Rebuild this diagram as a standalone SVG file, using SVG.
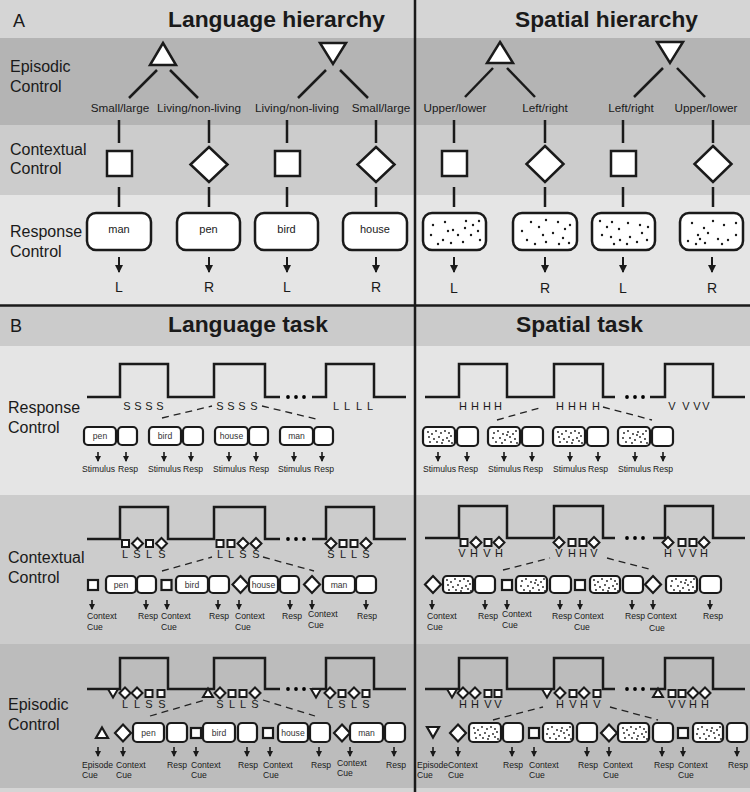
<svg xmlns="http://www.w3.org/2000/svg" xmlns:xlink="http://www.w3.org/1999/xlink" width="750" height="792" viewBox="0 0 750 792">
<style>
text{font-family:"Liberation Sans",Arial,sans-serif;fill:#1a1a1a}
.t16{font-size:16px}
.title{font-size:22px;font-weight:bold}
.pl{font-size:18px}
.lab{font-size:11.7px;text-anchor:middle}
.lr{font-size:14px;text-anchor:middle}
.wd{font-size:11px;text-anchor:middle}
.bw{font-size:8.6px;text-anchor:middle;fill:#333}
.s9{font-size:8.6px}
.lt{font-size:11px;text-anchor:middle}
.shape{fill:#fff;stroke:#1a1a1a;stroke-width:2.5}
.bx{fill:#fff;stroke:#1a1a1a;stroke-width:2.2}
.ln{stroke:#1a1a1a;stroke-width:2.5;fill:none}
.pulse{stroke:#1a1a1a;stroke-width:2.5;fill:none}
.dash{stroke:#222;stroke-width:1.3;stroke-dasharray:7 5;fill:none}
.arr{stroke:#1a1a1a;stroke-width:2;marker-end:url(#ahB)}
.arrS{stroke:#1a1a1a;stroke-width:1.6;marker-end:url(#ahS)}
</style>
<defs>
<marker id="ahB" viewBox="0 0 8 8" refX="7" refY="4" markerWidth="8" markerHeight="8" markerUnits="userSpaceOnUse" orient="auto"><path d="M0,0 L8,4 L0,8 Z" fill="#1a1a1a"/></marker>
<marker id="ahS" viewBox="0 0 6 6" refX="5" refY="3" markerWidth="6" markerHeight="6" markerUnits="userSpaceOnUse" orient="auto"><path d="M0,0 L6,3 L0,6 Z" fill="#1a1a1a"/></marker>
<rect id="sqS" x="-3.5" y="-3.5" width="7" height="7" fill="#fff" stroke="#1a1a1a" stroke-width="2"/>
<path id="dmS" d="M0,-5.5 L5.5,0 L0,5.5 L-5.5,0 Z" fill="#fff" stroke="#1a1a1a" stroke-width="2"/>
<path id="tdS" d="M-5,-4 L5,-4 L0,4.5 Z" fill="#fff" stroke="#1a1a1a" stroke-width="2"/>
<path id="tuS" d="M0,-4.5 L5,4 L-5,4 Z" fill="#fff" stroke="#1a1a1a" stroke-width="2"/>
<rect id="sqM" x="-5" y="-5" width="10" height="10" fill="#fff" stroke="#1a1a1a" stroke-width="2.2"/>
<path id="dmM" d="M0,-8.5 L8,0 L0,8.5 L-8,0 Z" fill="#fff" stroke="#1a1a1a" stroke-width="2.2"/>
<path id="tuM" d="M0,-5.5 L6,5 L-6,5 Z" fill="#fff" stroke="#1a1a1a" stroke-width="2.2"/>
<path id="tdM" d="M-6,-5 L6,-5 L0,5.5 Z" fill="#fff" stroke="#1a1a1a" stroke-width="2.2"/>
<g id="dS1" fill="#1a1a1a"><circle cx="4" cy="4" r="0.9"/><circle cx="8" cy="6" r="0.9"/><circle cx="12" cy="3" r="0.9"/><circle cx="17" cy="5" r="0.9"/><circle cx="21" cy="3" r="0.9"/><circle cx="25" cy="5" r="0.9"/><circle cx="27" cy="8" r="0.9"/><circle cx="5" cy="9" r="0.9"/><circle cx="10" cy="11" r="0.9"/><circle cx="15" cy="9" r="0.9"/><circle cx="19" cy="12" r="0.9"/><circle cx="23" cy="10" r="0.9"/><circle cx="6" cy="14" r="0.9"/><circle cx="13" cy="14" r="0.9"/><circle cx="18" cy="15" r="0.9"/><circle cx="25" cy="13" r="0.9"/><circle cx="28" cy="15" r="0.9"/></g>
<g id="dS2" fill="#1a1a1a"><circle cx="5" cy="5" r="0.9"/><circle cx="9" cy="3" r="0.9"/><circle cx="14" cy="6" r="0.9"/><circle cx="19" cy="4" r="0.9"/><circle cx="24" cy="6" r="0.9"/><circle cx="27" cy="3" r="0.9"/><circle cx="4" cy="10" r="0.9"/><circle cx="11" cy="10" r="0.9"/><circle cx="16" cy="12" r="0.9"/><circle cx="21" cy="9" r="0.9"/><circle cx="26" cy="11" r="0.9"/><circle cx="7" cy="14" r="0.9"/><circle cx="13" cy="15" r="0.9"/><circle cx="22" cy="14" r="0.9"/><circle cx="28" cy="15" r="0.9"/><circle cx="18" cy="7" r="0.9"/></g>
</defs>

<g id="backgrounds">
<rect x="0" y="0" width="750" height="38" fill="#d5d5d5"/>
<rect x="0" y="38" width="750" height="87" fill="#b4b4b4"/>
<rect x="0" y="125" width="750" height="70" fill="#cccccc"/>
<rect x="0" y="195" width="750" height="111" fill="#e5e5e5"/>
<rect x="0" y="306" width="750" height="40" fill="#cbcbcb"/>
<rect x="0" y="346" width="750" height="149" fill="#e5e5e5"/>
<rect x="0" y="495" width="750" height="149" fill="#cccccc"/>
<rect x="0" y="644" width="750" height="144" fill="#bcbcbc"/>
<rect x="0" y="788" width="750" height="4" fill="#d5d5d5"/>
<line x1="0" y1="305.5" x2="750" y2="305.5" stroke="#1a1a1a" stroke-width="2.5"/>
<line x1="415" y1="0" x2="415" y2="792" stroke="#1a1a1a" stroke-width="2.5"/>
</g>

<g id="labels">
<text class="pl" x="13" y="27">A</text>
<text class="title" x="168" y="27" textLength="217" lengthAdjust="spacingAndGlyphs">Language hierarchy</text>
<text class="title" x="515" y="27" textLength="183" lengthAdjust="spacingAndGlyphs">Spatial hierarchy</text>
<text class="t16" x="10" y="72">Episodic</text>
<text class="t16" x="10" y="92">Control</text>
<text class="t16" x="10" y="155">Contextual</text>
<text class="t16" x="10" y="174">Control</text>
<text class="t16" x="10" y="237">Response</text>
<text class="t16" x="10" y="257">Control</text>
<text class="pl" x="10" y="332">B</text>
<text class="title" x="168" y="332" textLength="160" lengthAdjust="spacingAndGlyphs">Language task</text>
<text class="title" x="516" y="332" textLength="127" lengthAdjust="spacingAndGlyphs">Spatial task</text>
<text class="t16" x="8" y="413">Response</text>
<text class="t16" x="8" y="433">Control</text>
<text class="t16" x="8" y="563">Contextual</text>
<text class="t16" x="8" y="583">Control</text>
<text class="t16" x="8" y="710">Episodic</text>
<text class="t16" x="8" y="730">Control</text>
</g>

<g id="connectors">
<line class="ln" x1="157" y1="70" x2="129" y2="98"/>
<line class="ln" x1="170" y1="70" x2="198" y2="98"/>
<line class="ln" x1="326" y1="70" x2="298" y2="98"/>
<line class="ln" x1="340" y1="70" x2="368" y2="98"/>
<line class="ln" x1="493" y1="68" x2="465" y2="97"/>
<line class="ln" x1="507" y1="68" x2="535" y2="97"/>
<line class="ln" x1="663" y1="68" x2="634" y2="97"/>
<line class="ln" x1="677" y1="68" x2="705" y2="97"/>
<g class="ln">
<line x1="119" y1="120" x2="119" y2="143"/><line x1="209" y1="120" x2="209" y2="143"/><line x1="287" y1="120" x2="287" y2="143"/><line x1="376" y1="120" x2="376" y2="143"/>
<line x1="454" y1="120" x2="454" y2="143"/><line x1="545" y1="120" x2="545" y2="143"/><line x1="623" y1="120" x2="623" y2="143"/><line x1="713" y1="120" x2="713" y2="143"/>
<line x1="119" y1="187" x2="119" y2="207"/><line x1="209" y1="187" x2="209" y2="207"/><line x1="287" y1="187" x2="287" y2="207"/><line x1="376" y1="187" x2="376" y2="207"/>
<line x1="454" y1="187" x2="454" y2="207"/><line x1="545" y1="187" x2="545" y2="207"/><line x1="623" y1="187" x2="623" y2="207"/><line x1="713" y1="187" x2="713" y2="207"/>
</g>
<g>
<line class="arr" x1="119" y1="257" x2="119" y2="272"/><line class="arr" x1="209" y1="257" x2="209" y2="272"/><line class="arr" x1="287" y1="257" x2="287" y2="272"/><line class="arr" x1="376" y1="257" x2="376" y2="272"/>
<line class="arr" x1="454" y1="257" x2="454" y2="272"/><line class="arr" x1="545" y1="257" x2="545" y2="272"/><line class="arr" x1="623" y1="257" x2="623" y2="272"/><line class="arr" x1="712" y1="257" x2="712" y2="272"/>
</g>
<line class="dash" x1="162" y1="418" x2="212" y2="406"/><line class="dash" x1="262" y1="406" x2="316" y2="419"/>
<line class="dash" x1="497" y1="420" x2="543" y2="407"/><line class="dash" x1="603" y1="407" x2="652" y2="420"/>
<line class="dash" x1="162" y1="571" x2="212" y2="557"/><line class="dash" x1="263" y1="557" x2="314" y2="571"/>
<line class="dash" x1="503" y1="570" x2="550" y2="558"/><line class="dash" x1="607" y1="558" x2="653" y2="570"/>
<line class="dash" x1="150" y1="716" x2="205" y2="700"/><line class="dash" x1="263" y1="700" x2="315" y2="716"/>
<line class="dash" x1="493" y1="720" x2="543" y2="707"/><line class="dash" x1="610" y1="707" x2="658" y2="720"/>
<g>
<line class="arrS" x1="98" y1="452" x2="98" y2="461"/><line class="arrS" x1="126" y1="452" x2="126" y2="461"/><line class="arrS" x1="164" y1="452" x2="164" y2="461"/><line class="arrS" x1="191" y1="452" x2="191" y2="461"/><line class="arrS" x1="229" y1="452" x2="229" y2="461"/><line class="arrS" x1="256" y1="452" x2="256" y2="461"/><line class="arrS" x1="294" y1="452" x2="294" y2="461"/><line class="arrS" x1="322" y1="452" x2="322" y2="461"/>
<line class="arrS" x1="438" y1="452" x2="438" y2="461"/><line class="arrS" x1="467" y1="452" x2="467" y2="461"/><line class="arrS" x1="504" y1="452" x2="504" y2="461"/><line class="arrS" x1="532" y1="452" x2="532" y2="461"/><line class="arrS" x1="570" y1="452" x2="570" y2="461"/><line class="arrS" x1="598" y1="452" x2="598" y2="461"/><line class="arrS" x1="635" y1="452" x2="635" y2="461"/><line class="arrS" x1="663" y1="452" x2="663" y2="461"/>
<line class="arrS" x1="92" y1="600" x2="92" y2="609"/><line class="arrS" x1="146" y1="600" x2="146" y2="609"/><line class="arrS" x1="167" y1="600" x2="167" y2="609"/><line class="arrS" x1="218" y1="600" x2="218" y2="609"/><line class="arrS" x1="239" y1="600" x2="239" y2="609"/><line class="arrS" x1="290" y1="600" x2="290" y2="609"/><line class="arrS" x1="312" y1="600" x2="312" y2="609"/><line class="arrS" x1="366" y1="600" x2="366" y2="609"/>
<line class="arrS" x1="432" y1="600" x2="432" y2="609"/><line class="arrS" x1="485" y1="600" x2="485" y2="609"/><line class="arrS" x1="507" y1="600" x2="507" y2="609"/><line class="arrS" x1="560" y1="600" x2="560" y2="609"/><line class="arrS" x1="580" y1="600" x2="580" y2="609"/><line class="arrS" x1="632" y1="600" x2="632" y2="609"/><line class="arrS" x1="653" y1="600" x2="653" y2="609"/><line class="arrS" x1="710" y1="600" x2="710" y2="609"/>
<line class="arrS" x1="98" y1="747" x2="98" y2="756"/><line class="arrS" x1="123" y1="747" x2="123" y2="756"/><line class="arrS" x1="174" y1="747" x2="174" y2="756"/><line class="arrS" x1="196" y1="747" x2="196" y2="756"/><line class="arrS" x1="247" y1="747" x2="247" y2="756"/><line class="arrS" x1="270" y1="747" x2="270" y2="756"/><line class="arrS" x1="319" y1="747" x2="319" y2="756"/><line class="arrS" x1="350" y1="747" x2="350" y2="756"/><line class="arrS" x1="394" y1="747" x2="394" y2="756"/>
<line class="arrS" x1="433" y1="747" x2="433" y2="756"/><line class="arrS" x1="458" y1="747" x2="458" y2="756"/><line class="arrS" x1="512" y1="747" x2="512" y2="756"/><line class="arrS" x1="534" y1="747" x2="534" y2="756"/><line class="arrS" x1="587" y1="747" x2="587" y2="756"/><line class="arrS" x1="609" y1="747" x2="609" y2="756"/><line class="arrS" x1="662" y1="747" x2="662" y2="756"/><line class="arrS" x1="683" y1="747" x2="683" y2="756"/><line class="arrS" x1="737" y1="747" x2="737" y2="756"/>
</g>
</g>

<g id="lang-episode-up"><path class="shape" d="M163,43 L176,65 L150,65 Z"/></g>
<g id="lang-episode-down"><path class="shape" d="M320,43 L346,43 L333,64 Z"/></g>
<g id="lang-rules">
<text class="lab" x="120" y="112">Small/large</text>
<text class="lab" x="199" y="112">Living/non-living</text>
<text class="lab" x="297" y="112">Living/non-living</text>
<text class="lab" x="381" y="112">Small/large</text>
</g>
<g id="lang-ctx-1"><rect class="shape" x="107" y="151" width="25" height="25"/></g>
<g id="lang-ctx-2"><path class="shape" d="M209,147 L227.5,164.5 L209,182 L190.5,164.5 Z"/></g>
<g id="lang-ctx-3"><rect class="shape" x="275" y="151" width="25" height="25"/></g>
<g id="lang-ctx-4"><path class="shape" d="M376,147 L394.5,164.5 L376,182 L357.5,164.5 Z"/></g>
<g id="lang-resp-man"><rect class="shape" x="87" y="213" width="64" height="37" rx="9"/><text class="wd" x="119" y="233">man</text></g>
<g id="lang-resp-pen"><rect class="shape" x="177" y="213" width="63" height="37" rx="9"/><text class="wd" x="208.5" y="233">pen</text></g>
<g id="lang-resp-bird"><rect class="shape" x="255" y="213" width="63" height="37" rx="9"/><text class="wd" x="286.5" y="233">bird</text></g>
<g id="lang-resp-house"><rect class="shape" x="343" y="213" width="64" height="37" rx="9"/><text class="wd" x="375" y="233">house</text></g>
<g id="lang-outputs">
<text class="lr" x="119" y="292">L</text><text class="lr" x="209" y="292">R</text><text class="lr" x="287" y="292">L</text><text class="lr" x="376" y="292">R</text>
</g>

<g id="spat-episode-up"><path class="shape" d="M500,42 L513,63 L487,63 Z"/></g>
<g id="spat-episode-down"><path class="shape" d="M657,42 L683,42 L670,63 Z"/></g>
<g id="spat-rules">
<text class="lab" x="455" y="112">Upper/lower</text>
<text class="lab" x="545" y="112">Left/right</text>
<text class="lab" x="631" y="112">Left/right</text>
<text class="lab" x="706" y="112">Upper/lower</text>
</g>
<g id="spat-ctx-1"><rect class="shape" x="442" y="151" width="25" height="25"/></g>
<g id="spat-ctx-2"><path class="shape" d="M545,146 L563.5,164 L545,182 L526.5,164 Z"/></g>
<g id="spat-ctx-3"><rect class="shape" x="611" y="151" width="25" height="25"/></g>
<g id="spat-ctx-4"><path class="shape" d="M713,146 L731.5,164 L713,182 L694.5,164 Z"/></g>
<g id="spat-resp-1"><rect class="shape" x="423" y="213" width="63" height="37" rx="9"/>
<g fill="#1a1a1a" transform="translate(423,213)"><circle cx="10" cy="12" r="1.2"/><circle cx="22" cy="9" r="1.2"/><circle cx="30" cy="17" r="1.2"/><circle cx="43" cy="8" r="1.2"/><circle cx="50" cy="12" r="1.2"/><circle cx="56" cy="8" r="1.2"/><circle cx="8" cy="22" r="1.2"/><circle cx="20" cy="27" r="1.2"/><circle cx="35" cy="22" r="1.2"/><circle cx="42" cy="15" r="1.2"/><circle cx="48" cy="22" r="1.2"/><circle cx="55" cy="18" r="1.2"/><circle cx="15" cy="31" r="1.2"/><circle cx="28" cy="30" r="1.2"/><circle cx="40" cy="29" r="1.2"/><circle cx="57" cy="27" r="1.2"/><circle cx="25" cy="18" r="1.2"/></g></g>
<g id="spat-resp-2"><rect class="shape" x="513" y="213" width="64" height="37" rx="9"/>
<g fill="#1a1a1a" transform="translate(513,213)"><circle cx="9" cy="18" r="1.2"/><circle cx="18" cy="9" r="1.2"/><circle cx="26" cy="14" r="1.2"/><circle cx="33" cy="7" r="1.2"/><circle cx="45" cy="9" r="1.2"/><circle cx="52" cy="16" r="1.2"/><circle cx="14" cy="27" r="1.2"/><circle cx="22" cy="31" r="1.2"/><circle cx="33" cy="29" r="1.2"/><circle cx="40" cy="20" r="1.2"/><circle cx="50" cy="25" r="1.2"/><circle cx="56" cy="30" r="1.2"/><circle cx="46" cy="31" r="1.2"/><circle cx="30" cy="22" r="1.2"/><circle cx="57" cy="12" r="1.2"/></g></g>
<g id="spat-resp-3"><rect class="shape" x="592" y="213" width="63" height="37" rx="9"/>
<g fill="#1a1a1a" transform="translate(592,213)"><circle cx="8" cy="8" r="1.2"/><circle cx="15" cy="14" r="1.2"/><circle cx="20" cy="9" r="1.2"/><circle cx="27" cy="16" r="1.2"/><circle cx="36" cy="10" r="1.2"/><circle cx="48" cy="12" r="1.2"/><circle cx="56" cy="14" r="1.2"/><circle cx="10" cy="22" r="1.2"/><circle cx="19" cy="24" r="1.2"/><circle cx="28" cy="27" r="1.2"/><circle cx="38" cy="24" r="1.2"/><circle cx="45" cy="29" r="1.2"/><circle cx="55" cy="27" r="1.2"/><circle cx="35" cy="31" r="1.2"/><circle cx="22" cy="31" r="1.2"/><circle cx="50" cy="20" r="1.2"/></g></g>
<g id="spat-resp-4"><rect class="shape" x="680" y="213" width="63" height="37" rx="9"/>
<g fill="#1a1a1a" transform="translate(680,213)"><circle cx="12" cy="10" r="1.2"/><circle cx="24" cy="15" r="1.2"/><circle cx="33" cy="8" r="1.2"/><circle cx="44" cy="12" r="1.2"/><circle cx="56" cy="10" r="1.2"/><circle cx="18" cy="22" r="1.2"/><circle cx="28" cy="20" r="1.2"/><circle cx="8" cy="28" r="1.2"/><circle cx="16" cy="31" r="1.2"/><circle cx="25" cy="30" r="1.2"/><circle cx="38" cy="26" r="1.2"/><circle cx="48" cy="27" r="1.2"/><circle cx="56" cy="22" r="1.2"/><circle cx="42" cy="31" r="1.2"/><circle cx="20" cy="26" r="1.2"/></g></g>
<g id="spat-outputs">
<text class="lr" x="454" y="293">L</text><text class="lr" x="545" y="293">R</text><text class="lr" x="623" y="293">L</text><text class="lr" x="712" y="293">R</text>
</g>

<g id="resp-lang-pulse">
<path class="pulse" d="M87,397 H120 V364 H168 V397 H214 V364 H265 V397 H280 M312,397 H326 V364 H374 V397 H406"/>
<circle cx="288" cy="397" r="1.9"/><circle cx="296" cy="397" r="1.9"/><circle cx="304" cy="397" r="1.9"/>
<text class="lt" x="127" y="410">S</text><text class="lt" x="138" y="410">S</text><text class="lt" x="149" y="410">S</text><text class="lt" x="160" y="410">S</text>
<text class="lt" x="220" y="410">S</text><text class="lt" x="231" y="410">S</text><text class="lt" x="242" y="410">S</text><text class="lt" x="254" y="410">S</text>
<text class="lt" x="336" y="410">L</text><text class="lt" x="347" y="410">L</text><text class="lt" x="359" y="410">L</text><text class="lt" x="370" y="410">L</text>
</g>
<g id="resp-lang-trials">
<rect class="bx" x="84" y="427" width="32" height="18" rx="4"/><text class="bw" x="100" y="439">pen</text><rect class="bx" x="118" y="427" width="19" height="18" rx="4"/>
<rect class="bx" x="149" y="427" width="32" height="18" rx="4"/><text class="bw" x="165" y="439">bird</text><rect class="bx" x="183" y="427" width="20" height="18" rx="4"/>
<rect class="bx" x="215" y="427" width="33" height="18" rx="4"/><text class="bw" x="231.5" y="439">house</text><rect class="bx" x="249" y="427" width="19" height="18" rx="4"/>
<rect class="bx" x="280" y="427" width="33" height="18" rx="4"/><text class="bw" x="296.5" y="439">man</text><rect class="bx" x="314" y="427" width="19" height="18" rx="4"/>
<g class="s9"><text x="82" y="472">Stimulus</text><text x="118" y="472">Resp</text><text x="148" y="472">Stimulus</text><text x="183" y="472">Resp</text><text x="213" y="472">Stimulus</text><text x="249" y="472">Resp</text><text x="278" y="472">Stimulus</text><text x="314" y="472">Resp</text></g>
</g>
<g id="resp-spat-pulse">
<path class="pulse" d="M425,397 H459 V364 H507 V397 H554 V364 H603 V397 H615 M650,397 H665 V364 H713 V397 H745"/>
<circle cx="627" cy="397" r="1.9"/><circle cx="635" cy="397" r="1.9"/><circle cx="643" cy="397" r="1.9"/>
<text class="lt" x="463" y="410">H</text><text class="lt" x="475" y="410">H</text><text class="lt" x="487" y="410">H</text><text class="lt" x="498" y="410">H</text>
<text class="lt" x="560" y="410">H</text><text class="lt" x="572" y="410">H</text><text class="lt" x="583" y="410">H</text><text class="lt" x="596" y="410">H</text>
<text class="lt" x="672" y="410">V</text><text class="lt" x="686" y="410">V</text><text class="lt" x="697" y="410">V</text><text class="lt" x="706" y="410">V</text>
</g>
<g id="resp-spat-trials">
<rect class="bx" x="423" y="427" width="32" height="19" rx="4"/><use href="#dS1" x="424" y="428"/><rect class="bx" x="457" y="427" width="21" height="19" rx="4"/>
<rect class="bx" x="488" y="427" width="32" height="19" rx="4"/><use href="#dS2" x="489" y="428"/><rect class="bx" x="522" y="427" width="21" height="19" rx="4"/>
<rect class="bx" x="553" y="427" width="32" height="19" rx="4"/><use href="#dS1" x="554" y="428"/><rect class="bx" x="587" y="427" width="21" height="19" rx="4"/>
<rect class="bx" x="618" y="427" width="32" height="19" rx="4"/><use href="#dS2" x="619" y="428"/><rect class="bx" x="652" y="427" width="21" height="19" rx="4"/>
<g class="s9"><text x="423" y="472">Stimulus</text><text x="458" y="472">Resp</text><text x="488" y="472">Stimulus</text><text x="523" y="472">Resp</text><text x="553" y="472">Stimulus</text><text x="588" y="472">Resp</text><text x="618" y="472">Stimulus</text><text x="653" y="472">Resp</text></g>
</g>

<g id="ctx-lang-pulse">
<path class="pulse" d="M87,539 H120 V507 H168 V539 H214 V507 H265 V539 H280 M312,539 H326 V507 H374 V539 H406"/>
<circle cx="288" cy="539" r="1.9"/><circle cx="296" cy="539" r="1.9"/><circle cx="304" cy="539" r="1.9"/>
<use href="#sqS" x="125.5" y="543.5"/><use href="#dmS" x="137.5" y="543.5"/><use href="#sqS" x="149.5" y="543.5"/><use href="#dmS" x="161.5" y="543.5"/>
<use href="#sqS" x="220" y="543.5"/><use href="#sqS" x="231" y="543.5"/><use href="#dmS" x="243" y="543.5"/><use href="#dmS" x="256" y="543.5"/>
<use href="#dmS" x="331" y="543.5"/><use href="#sqS" x="343" y="543.5"/><use href="#sqS" x="354" y="543.5"/><use href="#dmS" x="366" y="543.5"/>
<text class="lt" x="125" y="558">L</text><text class="lt" x="137" y="558">S</text><text class="lt" x="149" y="558">L</text><text class="lt" x="162" y="558">S</text>
<text class="lt" x="220" y="558">L</text><text class="lt" x="231" y="558">L</text><text class="lt" x="243" y="558">S</text><text class="lt" x="256" y="558">S</text>
<text class="lt" x="331" y="558">S</text><text class="lt" x="343" y="558">L</text><text class="lt" x="354" y="558">L</text><text class="lt" x="366" y="558">S</text>
</g>
<g id="ctx-lang-trials">
<use href="#sqM" x="93" y="585"/>
<rect class="bx" x="106" y="576" width="30" height="17" rx="4"/><text class="bw" x="121" y="588">pen</text><rect class="bx" x="137" y="576" width="19" height="17" rx="4"/>
<use href="#sqM" x="166.5" y="585"/>
<rect class="bx" x="176" y="576" width="32" height="17" rx="4"/><text class="bw" x="192" y="588">bird</text><rect class="bx" x="209" y="576" width="20" height="17" rx="4"/>
<use href="#dmM" x="240.5" y="584.5"/>
<rect class="bx" x="249" y="576" width="29" height="17" rx="4"/><text class="bw" x="263.5" y="588">house</text><rect class="bx" x="280" y="576" width="19" height="17" rx="4"/>
<use href="#dmM" x="312" y="584.5"/>
<rect class="bx" x="323" y="576" width="32" height="17" rx="4"/><text class="bw" x="339" y="588">man</text><rect class="bx" x="356" y="576" width="20" height="17" rx="4"/>
<g class="s9"><text x="87" y="619">Context</text><text x="87" y="630">Cue</text><text x="138" y="619">Resp</text><text x="161" y="619">Context</text><text x="161" y="630">Cue</text><text x="209" y="619">Resp</text><text x="235" y="619">Context</text><text x="235" y="630">Cue</text><text x="282" y="619">Resp</text><text x="308" y="617">Context</text><text x="308" y="628">Cue</text><text x="357" y="619">Resp</text></g>
</g>
<g id="ctx-spat-pulse">
<path class="pulse" d="M425,538 H459 V506 H507 V538 H554 V506 H603 V538 H615 M653,538 H665 V506 H713 V538 H745"/>
<circle cx="627" cy="538" r="1.9"/><circle cx="635" cy="538" r="1.9"/><circle cx="643" cy="538" r="1.9"/>
<use href="#sqS" x="464" y="542.5"/><use href="#dmS" x="476" y="542.5"/><use href="#sqS" x="488" y="542.5"/><use href="#dmS" x="499" y="542.5"/>
<use href="#dmS" x="559" y="542.5"/><use href="#sqS" x="572" y="542.5"/><use href="#sqS" x="583" y="542.5"/><use href="#dmS" x="594" y="542.5"/>
<use href="#dmS" x="668" y="542.5"/><use href="#sqS" x="682" y="542.5"/><use href="#sqS" x="693" y="542.5"/><use href="#dmS" x="704" y="542.5"/>
<text class="lt" x="462" y="557">V</text><text class="lt" x="474" y="557">H</text><text class="lt" x="487" y="557">V</text><text class="lt" x="499" y="557">H</text>
<text class="lt" x="559" y="557">V</text><text class="lt" x="572" y="557">H</text><text class="lt" x="583" y="557">H</text><text class="lt" x="594" y="557">V</text>
<text class="lt" x="668" y="557">H</text><text class="lt" x="682" y="557">V</text><text class="lt" x="693" y="557">V</text><text class="lt" x="704" y="557">H</text>
</g>
<g id="ctx-spat-trials">
<use href="#dmM" x="433" y="584.5"/>
<rect class="bx" x="443" y="576" width="30" height="17" rx="4"/><use href="#dS1" x="443" y="576"/><rect class="bx" x="475" y="576" width="20" height="17" rx="4"/>
<use href="#sqM" x="507" y="585"/>
<rect class="bx" x="516" y="576" width="31" height="17" rx="4"/><use href="#dS2" x="517" y="576"/><rect class="bx" x="550" y="576" width="21" height="17" rx="4"/>
<use href="#sqM" x="580" y="585"/>
<rect class="bx" x="590" y="576" width="30" height="17" rx="4"/><use href="#dS1" x="590" y="576"/><rect class="bx" x="623" y="576" width="20" height="17" rx="4"/>
<use href="#dmM" x="653" y="584.5"/>
<rect class="bx" x="666" y="576" width="31" height="17" rx="4"/><use href="#dS2" x="667" y="576"/><rect class="bx" x="700" y="576" width="21" height="17" rx="4"/>
<g class="s9"><text x="427" y="619">Context</text><text x="427" y="630">Cue</text><text x="478" y="619">Resp</text><text x="502" y="617">Context</text><text x="502" y="628">Cue</text><text x="552" y="619">Resp</text><text x="574" y="619">Context</text><text x="574" y="630">Cue</text><text x="625" y="619">Resp</text><text x="647" y="619">Context</text><text x="649" y="631">Cue</text><text x="703" y="619">Resp</text></g>
</g>

<g id="epi-lang-pulse">
<path class="pulse" d="M87,689 H120 V658 H168 V689 H214 V658 H265 V689 H280 M312,689 H326 V658 H374 V689 H406"/>
<circle cx="288" cy="689" r="1.9"/><circle cx="296" cy="689" r="1.9"/><circle cx="304" cy="689" r="1.9"/>
<use href="#tdS" x="113" y="693"/><use href="#dmS" x="125" y="693"/><use href="#dmS" x="137" y="693"/><use href="#sqS" x="149" y="693.5"/><use href="#sqS" x="161" y="693.5"/>
<use href="#tuS" x="208" y="693"/><use href="#dmS" x="220" y="693"/><use href="#sqS" x="232" y="693.5"/><use href="#sqS" x="243" y="693.5"/><use href="#dmS" x="255" y="693"/>
<use href="#tdS" x="316" y="693"/><use href="#dmS" x="330" y="693"/><use href="#sqS" x="342" y="693.5"/><use href="#dmS" x="354" y="693"/><use href="#sqS" x="366" y="693.5"/>
<text class="lt" x="125" y="708">L</text><text class="lt" x="137" y="708">L</text><text class="lt" x="149" y="708">S</text><text class="lt" x="162" y="708">S</text>
<text class="lt" x="220" y="708">S</text><text class="lt" x="232" y="708">L</text><text class="lt" x="243" y="708">L</text><text class="lt" x="255" y="708">S</text>
<text class="lt" x="330" y="708">L</text><text class="lt" x="342" y="708">S</text><text class="lt" x="354" y="708">L</text><text class="lt" x="366" y="708">S</text>
</g>
<g id="epi-lang-trials">
<use href="#tuM" x="102" y="733"/>
<use href="#dmM" x="123" y="733"/>
<rect class="bx" x="133" y="723" width="31" height="19" rx="4"/><text class="bw" x="148.5" y="736">pen</text><rect class="bx" x="167" y="723" width="20" height="19" rx="4"/>
<use href="#sqM" x="196" y="733"/>
<rect class="bx" x="203" y="723" width="32" height="19" rx="4"/><text class="bw" x="219" y="736">bird</text><rect class="bx" x="238" y="723" width="19" height="19" rx="4"/>
<use href="#sqM" x="268" y="733"/>
<rect class="bx" x="278" y="723" width="30" height="19" rx="4"/><text class="bw" x="293" y="736">house</text><rect class="bx" x="310" y="723" width="20" height="19" rx="4"/>
<use href="#dmM" x="342" y="733"/>
<rect class="bx" x="350" y="723" width="33" height="19" rx="4"/><text class="bw" x="366.5" y="736">man</text><rect class="bx" x="385" y="723" width="20" height="19" rx="4"/>
<g class="s9"><text x="82" y="768">Episode</text><text x="82" y="778">Cue</text><text x="116" y="768">Context</text><text x="116" y="778">Cue</text><text x="167" y="768">Resp</text><text x="191" y="768">Context</text><text x="191" y="778">Cue</text><text x="238" y="768">Resp</text><text x="263" y="768">Context</text><text x="263" y="778">Cue</text><text x="311" y="768">Resp</text><text x="337" y="766">Context</text><text x="337" y="776">Cue</text><text x="386" y="768">Resp</text></g>
</g>
<g id="epi-spat-pulse">
<path class="pulse" d="M425,689 H459 V658 H507 V689 H554 V658 H603 V689 H615 M650,689 H665 V658 H713 V689 H745"/>
<circle cx="627" cy="689" r="1.9"/><circle cx="635" cy="689" r="1.9"/><circle cx="643" cy="689" r="1.9"/>
<use href="#tdS" x="452" y="693"/><use href="#dmS" x="463" y="693"/><use href="#dmS" x="475" y="693"/><use href="#sqS" x="488" y="693.5"/><use href="#sqS" x="498" y="693.5"/>
<use href="#tdS" x="547" y="693"/><use href="#dmS" x="560" y="693"/><use href="#sqS" x="573" y="693.5"/><use href="#dmS" x="584" y="693"/><use href="#sqS" x="597" y="693.5"/>
<use href="#tuS" x="658" y="693"/><use href="#sqS" x="672" y="693.5"/><use href="#sqS" x="682" y="693.5"/><use href="#dmS" x="693" y="693"/><use href="#dmS" x="705" y="693"/>
<text class="lt" x="463" y="708">H</text><text class="lt" x="475" y="708">H</text><text class="lt" x="488" y="708">V</text><text class="lt" x="498" y="708">V</text>
<text class="lt" x="560" y="708">H</text><text class="lt" x="573" y="708">V</text><text class="lt" x="584" y="708">H</text><text class="lt" x="597" y="708">V</text>
<text class="lt" x="672" y="708">V</text><text class="lt" x="682" y="708">V</text><text class="lt" x="693" y="708">H</text><text class="lt" x="705" y="708">H</text>
</g>
<g id="epi-spat-trials">
<use href="#tdM" x="433" y="732"/>
<use href="#dmM" x="458" y="733"/>
<rect class="bx" x="469" y="723" width="32" height="19" rx="4"/><use href="#dS1" x="470" y="724"/><rect class="bx" x="503" y="723" width="20" height="19" rx="4"/>
<use href="#sqM" x="534" y="733"/>
<rect class="bx" x="543" y="723" width="30" height="19" rx="4"/><use href="#dS2" x="543" y="724"/><rect class="bx" x="577" y="723" width="20" height="19" rx="4"/>
<use href="#dmM" x="609" y="733"/>
<rect class="bx" x="618" y="723" width="31" height="19" rx="4"/><use href="#dS1" x="619" y="724"/><rect class="bx" x="653" y="723" width="20" height="19" rx="4"/>
<use href="#sqM" x="683" y="733"/>
<rect class="bx" x="693" y="723" width="30" height="19" rx="4"/><use href="#dS2" x="693" y="724"/><rect class="bx" x="727" y="723" width="20" height="19" rx="4"/>
<g class="s9"><text x="417" y="768">Episode</text><text x="417" y="778">Cue</text><text x="448" y="768">Context</text><text x="448" y="778">Cue</text><text x="503" y="768">Resp</text><text x="529" y="768">Context</text><text x="529" y="778">Cue</text><text x="578" y="768">Resp</text><text x="603" y="768">Context</text><text x="603" y="778">Cue</text><text x="654" y="768">Resp</text><text x="678" y="768">Context</text><text x="678" y="778">Cue</text><text x="728" y="768">Resp</text></g>
</g>
</svg>
